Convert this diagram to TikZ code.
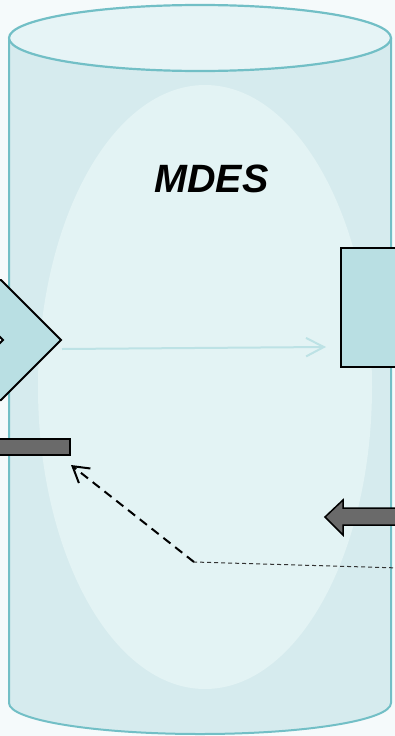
\documentclass[tikz,border=0pt]{standalone}
\usepackage{fontspec}
\setmainfont{Liberation Sans}
\usetikzlibrary{arrows.meta}

\definecolor{bgcol}{HTML}{F5FAFB}
\definecolor{cylside}{HTML}{D6EBEE}
\definecolor{cyltop}{HTML}{E6F4F6}
\definecolor{cylline}{HTML}{72BFC6}
\definecolor{inner}{HTML}{E3F3F4}
\definecolor{boxfill}{HTML}{B9DFE3}
\definecolor{flowcol}{HTML}{BDE2E5}
\definecolor{barfill}{HTML}{6A6A6A}

\tikzset{
  part/.style={fill=boxfill, draw=black, line width=2pt},
  bar/.style={fill=barfill, draw=black, line width=1.5pt},
  flow/.style={draw=flowcol, line width=2pt, -{Straight Barb[angle=55:20pt]}},
  link/.style={draw=black!80, line width=1pt, dash pattern=on 4pt off 3pt},
  ref/.style={draw=black, line width=2pt, dash pattern=on 9pt off 6pt, -{Straight Barb[angle=62:18pt]}}
}

\begin{document}
\begin{tikzpicture}[x=1pt, y=1pt]
  \fill[bgcol] (0,0) rectangle (395,-736);
  \useasboundingbox (0,0) rectangle (395,-736);

  % cylinder
  \fill[cylside] (9,-38) -- (9,-703) arc[start angle=180, end angle=360, x radius=191, y radius=31] -- (391,-38) -- cycle;
  \fill[inner] (205,-387) ellipse [x radius=167, y radius=302];
  \draw[cylline, line width=2pt] (9,-38) -- (9,-703) arc[start angle=180, end angle=360, x radius=191, y radius=31] -- (391,-38);
  \draw[cylline, line width=2.2pt, fill=cyltop] (200,-38) ellipse [x radius=191, y radius=33];

  \node[font=\fontsize{39.5}{42}\selectfont\bfseries\itshape, inner sep=0pt] (mdes) at (211.5,-178.5) {MDES};

  % input part
  \draw[part] (-57,-280) -- (1,-280) -- (61,-340) -- (1,-400) -- (-57,-400) -- (3,-340) -- cycle;
  \node[part, line width=2.5pt, inner sep=0pt, minimum width=78pt, minimum height=119pt] (store) at (380,-307.5) {};

  \coordinate (tip) at (62,-349);
  \coordinate (storein) at (326,-347);
  \draw[flow] (tip) -- (storein);

  % bars
  \node[bar, inner sep=0pt, minimum width=80pt, minimum height=16pt] (outbar) at (30,-447) {};
  \draw[bar, line join=miter] (402,-508) -- (343,-508) -- (343,-500) -- (325,-517) -- (343,-535) -- (343,-525) -- (402,-525);

  \coordinate (src) at (400,-568);
  \coordinate (bend) at (194,-562);
  \coordinate (outend) at (71,-465);
  \draw[link] (src) -- (bend);
  \draw[ref] (bend) -- (outend);
\end{tikzpicture}
\end{document}
